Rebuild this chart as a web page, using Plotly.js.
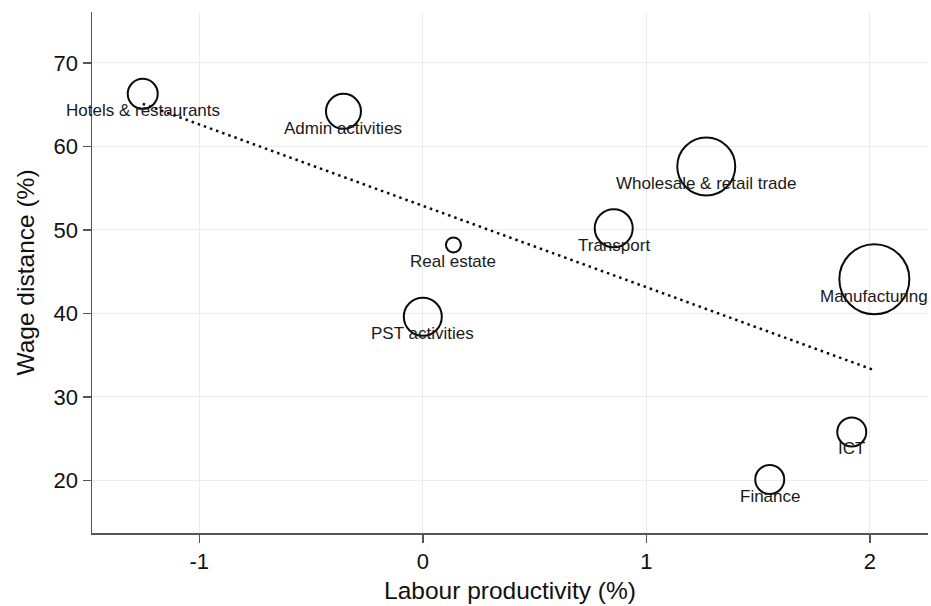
<!DOCTYPE html>
<html>
<head>
<meta charset="utf-8">
<script src="https://cdn.plot.ly/plotly-3.0.1.min.js"></script>
<style>
  html, body { margin: 0; padding: 0; background: #ffffff; }
  #chart { width: 931px; height: 606px; }
</style>
</head>
<body>
<div id="chart"></div>
<script>
// Sectors: labour productivity growth vs. wage distance, bubble = sector weight
const sectors = [
  'Hotels & restaurants', 'Admin activities', 'Real estate', 'PST activities',
  'Transport', 'Wholesale & retail trade', 'Manufacturing', 'ICT', 'Finance'
];
const productivity = [-1.253, -0.355, 0.137, 0.0, 0.854, 1.268, 2.02, 1.919, 1.552];
const wageDistance = [66.3, 64.2, 48.2, 39.6, 50.2, 57.6, 44.1, 25.8, 20.1];
const bubbleSize   = [30, 35, 15, 38, 38, 58, 70, 29, 29];

// Linear fit drawn across the observed productivity range
const fitX = [-1.253, 2.02];
const fitY = [65.1, 33.2];

const xTickVals = [-1, 0, 1, 2];
const xTickText = ['-1', '0', '1', '2'];
const yTickVals = [20, 30, 40, 50, 60, 70];
const yTickText = ['20', '30', '40', '50', '60', '70'];

const FONT = '"Liberation Sans", Arial, Helvetica, sans-serif';

const bubbles = {
  type: 'scatter',
  mode: 'markers',
  x: productivity,
  y: wageDistance,
  marker: {
    size: bubbleSize,
    sizemode: 'diameter',
    opacity: 1,
    color: 'rgba(0,0,0,0)',
    line: { color: '#0a0a0a', width: 2 }
  },
  hoverinfo: 'skip',
  showlegend: false
};

const fitLine = {
  type: 'scatter',
  mode: 'lines',
  x: fitX,
  y: fitY,
  line: { color: '#0a0a0a', width: 2.5, dash: '2.5px,4px' },
  hoverinfo: 'skip',
  showlegend: false
};

const labels = sectors.map((name, i) => ({
  x: productivity[i],
  y: wageDistance[i],
  xref: 'x',
  yref: 'y',
  text: name,
  showarrow: false,
  xanchor: 'center',
  yanchor: 'middle',
  yshift: -17,
  font: { family: FONT, size: 17, color: '#1a1a1a' }
}));

const layout = {
  width: 931,
  height: 606,
  margin: { l: 92, r: 3, t: 12, b: 73 },
  paper_bgcolor: '#ffffff',
  plot_bgcolor: '#ffffff',
  font: { family: FONT, color: '#1a1a1a' },
  showlegend: false,
  xaxis: {
    range: [-1.48, 2.26],
    tickmode: 'array',
    tickvals: xTickVals,
    ticktext: xTickText,
    ticks: 'outside',
    ticklen: 8,
    tickwidth: 1.5,
    tickcolor: '#555555',
    showline: true,
    linecolor: '#555555',
    linewidth: 1.5,
    showgrid: true,
    gridcolor: '#ececec',
    gridwidth: 1,
    zeroline: false,
    tickfont: { family: FONT, size: 22, color: '#111111' },
    title: { text: 'Labour productivity (%)', font: { family: FONT, size: 24.5, color: '#111111' }, standoff: 9 }
  },
  yaxis: {
    range: [13.7, 76.1],
    tickmode: 'array',
    tickvals: yTickVals,
    ticktext: yTickText,
    ticks: 'outside',
    ticklen: 8,
    tickwidth: 1.5,
    tickcolor: '#555555',
    showline: true,
    linecolor: '#555555',
    linewidth: 1.5,
    showgrid: true,
    gridcolor: '#ececec',
    gridwidth: 1,
    zeroline: false,
    tickfont: { family: FONT, size: 22, color: '#111111' },
    title: { text: 'Wage distance (%)', font: { family: FONT, size: 24.5, color: '#111111' }, standoff: 12 }
  },
  annotations: labels
};

Plotly.newPlot('chart', [fitLine, bubbles], layout, { displayModeBar: false, staticPlot: true });
</script>
</body>
</html>
